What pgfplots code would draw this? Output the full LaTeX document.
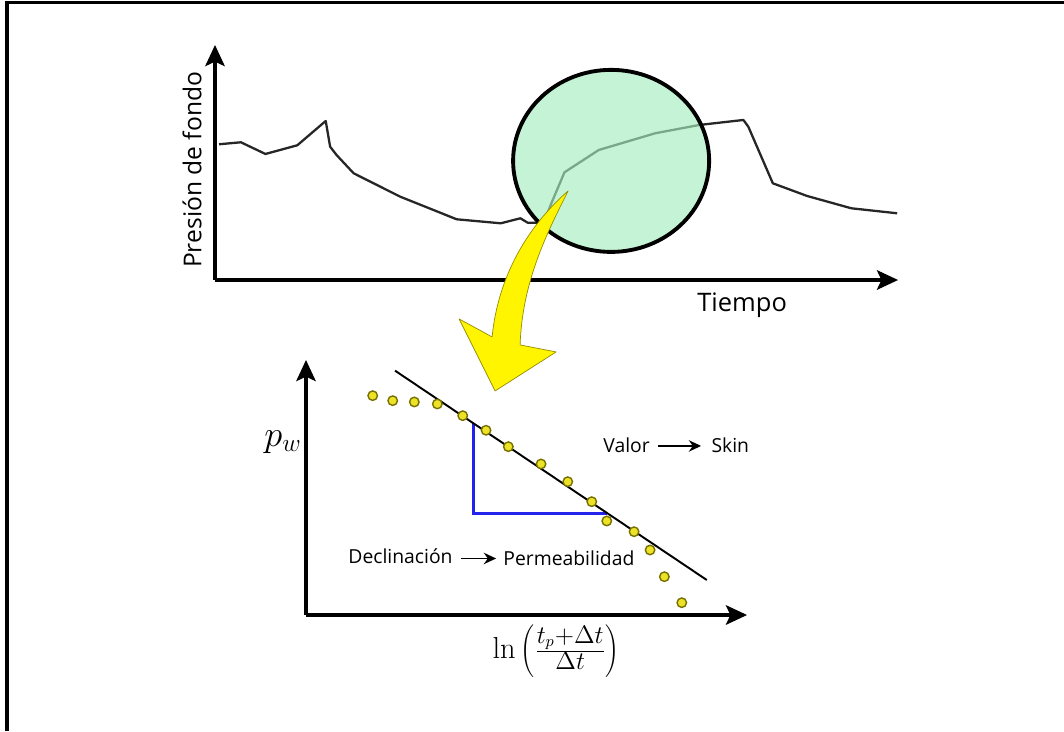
\documentclass[border=0pt]{standalone}
\usepackage[no-math]{fontspec}
\setmainfont{Open Sans}
\usepackage{pgfplots}
\pgfplotsset{compat=1.18}
\usetikzlibrary{arrows.meta}

\definecolor{dotfill}{RGB}{236,226,40}
\definecolor{dotedge}{RGB}{120,112,0}
\definecolor{slopeblue}{RGB}{35,35,235}
\definecolor{lensgreen}{RGB}{165,238,190}
\definecolor{arrowyellow}{RGB}{255,245,0}
\definecolor{arrowedge}{RGB}{150,140,0}

% both axes share one pixel-like frame: 1 unit = 0.02cm, y counted from the bottom
\pgfplotsset{
  sketch/.style={
    x=0.02cm, y=0.02cm,
    axis lines=left,
    ticks=none,
    clip=false,
    axis line style={line width=2.1pt, -{Stealth[length=12pt,width=11pt,inset=2.5pt]}},
  }
}

\begin{document}
\begin{tikzpicture}
\useasboundingbox (0,0) rectangle (21.28cm,14.62cm);

% top: bottom-hole pressure against time
\begin{axis}[sketch, anchor=south west, at={(4.3cm,9.02cm)},
    xmin=215, xmax=898, ymin=451, ymax=686]
\addplot[black!85, line width=1.3pt, line join=round] coordinates {
    (219,586.7) (240.9,588.7) (265.4,577) (297.3,585.7) (325.7,610)
    (330.1,584.3) (336.5,576) (353.6,557.7) (400.2,534.3) (456.6,511.7)
    (500.7,507.7) (520.3,512.7) (527.6,508.3) (544.8,508.3) (547.5,518)
    (551,527) (564.4,558.7) (598.7,581) (655.1,597.7) (699.2,606)
    (743.3,611) (748.2,604.3) (772.7,547.7) (807,535) (851.2,522.7)
    (897,517.7)
};
\end{axis}

% bottom: Horner plot
\begin{axis}[sketch, anchor=south west, at={(6.12cm,2.32cm)},
    xmin=306, xmax=747, ymin=116, ymax=371]
\addplot[slopeblue, line width=1.4pt] coordinates {
    (473.3,307.5) (473.3,217.7) (606.7,217.7)
};
\addplot[black, line width=1.1pt] coordinates {(395,360.3) (706.7,151)};
\addplot[only marks, mark=*, mark size=2.7pt,
    mark options={fill=dotfill, draw=dotedge, line width=0.8pt}] coordinates {
    (372.7,335.3) (392.7,330.3) (414.3,329) (437.3,327) (462.7,315.3)
    (486,300.7) (508.3,284.3) (541,267) (567.7,249.3) (591.7,229.3)
    (606.7,210) (634,199.3) (650,181) (664.3,154.3) (681.7,128.3)
};
\end{axis}

\begin{scope}[x=0.02cm, y=0.02cm]
  % frame (left and top only)
  \draw[line width=1.8pt] (7,0) -- (7,728) -- (1064,728);

  % highlighted build-up region
  \draw[line width=2.2pt, fill=lensgreen, fill opacity=0.65] (611,570) ellipse [x radius=98, y radius=91];

  % curved yellow arrow
  \filldraw[fill=arrowyellow, draw=arrowedge, line width=0.4pt, line join=round]
    (568,540) .. controls (548,500) and (522,450) .. (520,386)
    -- (556,379) -- (495,340) -- (459,412) -- (492,394)
    .. controls (498,455) and (528,505) .. (568,540) -- cycle;

  % labels
  \node[rotate=90, font=\fontsize{14}{16}\selectfont] at (192,561) {Presión de fondo};
  \node[anchor=base, font=\fontsize{14.5}{16}\selectfont] at (742,419) {Tiempo};
  \node[font=\fontsize{21}{24}\selectfont] at (283,289) {$p_w$};
  \node[font=\fontsize{19}{22}\selectfont] at (556,80) {$\ln\left(\frac{t_p+\Delta t}{\Delta t}\right)$};

  \begin{scope}[every node/.style={anchor=base west, inner sep=0pt, font=\fontsize{11}{13}\selectfont}]
    \node at (603,278) {Valor};
    \draw[line width=1pt, -{Stealth[length=7pt,width=6.5pt]}] (658,285) -- (701,285);
    \node at (711,278) {Skin};
    \node at (348,167.5) {Declinación};
    \draw[line width=1pt, -{Stealth[length=7pt,width=6.5pt]}] (461,172.5) -- (496,172.5);
    \node at (503,165.5) {Permeabilidad};
  \end{scope}
\end{scope}
\end{tikzpicture}
\end{document}
